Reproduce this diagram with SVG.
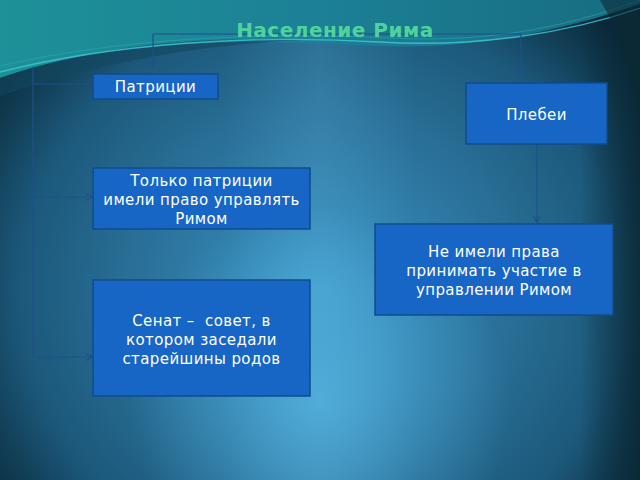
<svg xmlns="http://www.w3.org/2000/svg" width="640" height="480" viewBox="0 0 640 480">
  <defs>
    <radialGradient id="bg" cx="320" cy="290" r="400" gradientUnits="userSpaceOnUse" gradientTransform="translate(320 290) scale(1 0.95) translate(-320 -290)">
      <stop offset="0" stop-color="#3a94c4"/>
      <stop offset="0.45" stop-color="#2a7199"/>
      <stop offset="0.75" stop-color="#1c587a"/>
      <stop offset="0.88" stop-color="#123f57"/>
      <stop offset="1" stop-color="#0a2a3a"/>
    </radialGradient>
    <radialGradient id="spot" cx="320" cy="400" r="190" gradientUnits="userSpaceOnUse">
      <stop offset="0" stop-color="#55b8e6" stop-opacity="0.7"/>
      <stop offset="1" stop-color="#55b8e6" stop-opacity="0"/>
    </radialGradient>
    <linearGradient id="band" x1="0" y1="0" x2="1" y2="0">
      <stop offset="0.35" stop-color="#6cc6ee" stop-opacity="0"/>
      <stop offset="0.5" stop-color="#6cc6ee" stop-opacity="0.18"/>
      <stop offset="0.65" stop-color="#6cc6ee" stop-opacity="0"/>
    </linearGradient>
    <linearGradient id="teal" x1="0" y1="0" x2="1" y2="0">
      <stop offset="0" stop-color="#1d9197"/>
      <stop offset="0.5" stop-color="#1c8096"/>
      <stop offset="1" stop-color="#176c80"/>
    </linearGradient>
    <linearGradient id="darkr" x1="0" y1="0" x2="1" y2="0">
      <stop offset="0" stop-color="#0a2733" stop-opacity="0"/>
      <stop offset="1" stop-color="#0a2733" stop-opacity="0.85"/>
    </linearGradient>
    <marker id="arr" viewBox="0 0 10 10" refX="9" refY="5" markerWidth="6" markerHeight="6" orient="auto">
      <path d="M0,0 L10,5 L0,10" fill="none" stroke="#1e4f8e" stroke-width="1.5"/>
    </marker>
  </defs>
  <style>
    .box { fill: #1766c6; stroke: #0f4c8c; stroke-width: 1.5; }
    .t { font-family: "DejaVu Sans", "Liberation Sans", sans-serif; font-size: 15px; fill: #ffffff; text-anchor: middle; letter-spacing: 0.4px; }
    .c { fill: none; stroke: #1e4f8e; stroke-width: 1.2; }
    .title { font-family: "DejaVu Sans", "Liberation Sans", sans-serif; font-weight: bold; font-size: 20px; fill: #4fd39c; text-anchor: middle; letter-spacing: 0.5px; }
  </style>

  <!-- background -->
  <rect x="0" y="0" width="640" height="480" fill="url(#bg)"/>
  <rect x="0" y="0" width="640" height="480" fill="url(#spot)"/>
  <rect x="0" y="0" width="640" height="480" fill="url(#band)"/>
  <rect x="580" y="0" width="60" height="480" fill="url(#darkr)"/>
  <!-- top swooshes -->
  <path d="M0,0 H640 V4 C570,28 480,50 380,46 C260,40 120,36 0,78 Z" fill="url(#teal)"/>
  <path d="M0,78 C90,48 180,36 300,40 C220,44 110,58 0,96 Z" fill="#12485f" opacity="0.6"/>
  <path d="M0,72 C110,44 250,34 380,42 C480,48 570,32 640,8" fill="none" stroke="#3cc6d0" stroke-width="1.3" opacity="0.85"/>
  <path d="M0,66 C120,38 260,32 390,38 C500,44 580,22 640,0" fill="none" stroke="#2aa8b8" stroke-width="1" opacity="0.6"/>
  <path d="M600,0 C618,30 630,60 640,110 V0 Z" fill="#0a2a36" opacity="0.6"/>

  <!-- connectors -->
  <g id="connectors">
    <path class="c" d="M153,34 H521"/>
    <path class="c" d="M153,34 V67" marker-end="url(#arr)"/>
    <path class="c" d="M521,34 V74" marker-end="url(#arr)"/>
    <path class="c" d="M33,67 V357"/>
    <path class="c" d="M33,84 H93"/>
    <path class="c" d="M33,197 H92" marker-end="url(#arr)"/>
    <path class="c" d="M33,357 H92" marker-end="url(#arr)"/>
    <path class="c" d="M537,144 V222" marker-end="url(#arr)"/>
  </g>

  <text class="title" x="335" y="37">Население Рима</text>

  <g id="patricii">
    <rect class="box" x="93" y="74" width="125" height="25"/>
    <text class="t" x="155.5" y="92">Патриции</text>
  </g>
  <g id="plebei">
    <rect class="box" x="466" y="83" width="141" height="61"/>
    <text class="t" x="536.5" y="120">Плебеи</text>
  </g>
  <g id="tolko">
    <rect class="box" x="93" y="168" width="217" height="61"/>
    <text class="t" x="201.5" y="186">Только патриции</text>
    <text class="t" x="201.5" y="205">имели право управлять</text>
    <text class="t" x="201.5" y="224">Римом</text>
  </g>
  <g id="neimeli">
    <rect class="box" x="375" y="224" width="238" height="91"/>
    <text class="t" x="494" y="257">Не имели права</text>
    <text class="t" x="494" y="276">принимать участие в</text>
    <text class="t" x="494" y="295">управлении Римом</text>
  </g>
  <g id="senat">
    <rect class="box" x="93" y="280" width="217" height="116"/>
    <text class="t" x="201.5" y="326" xml:space="preserve">Сенат –  совет, в</text>
    <text class="t" x="201.5" y="345">котором заседали</text>
    <text class="t" x="201.5" y="364">старейшины родов</text>
  </g>
</svg>
